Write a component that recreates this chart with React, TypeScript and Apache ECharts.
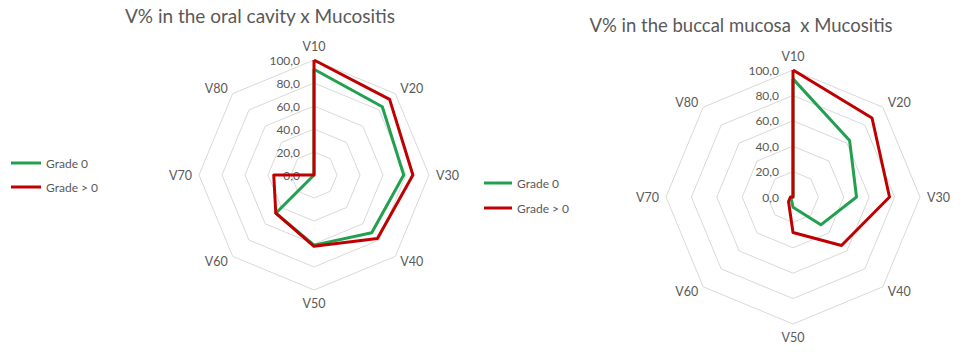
import React, { useEffect, useRef } from "react";
import * as echarts from "echarts";

const axisNames = ["V10", "V20", "V30", "V40", "V50", "V60", "V70", "V80"];
const seriesNames = ["Grade 0", "Grade > 0"];
const titles = ["V% in the oral cavity x Mucositis", "V% in the buccal mucosa  x Mucositis"];

// Oral cavity (left chart)
const oralGrade0 = [92, 84, 78, 71, 61, 47, 0, 0];
const oralGradeAbove0 = [100, 93, 86, 78, 62, 47, 35, 0];

// Buccal mucosa (right chart)
const buccalGrade0 = [93, 63, 50, 31, 8, 2, 1, 0];
const buccalGradeAbove0 = [100, 88, 76, 54, 28, 5, 2, 0];

const axisMin = 0;
const axisMax = 100;
const axisSplits = 5;

const GREEN = "#21a04f";
const RED = "#c00000";
const TEXT = "#595959";
const FONT = "Lato";

// ECharts radar goes counter-clockwise; Excel goes clockwise.
const order = [0, 7, 6, 5, 4, 3, 2, 1];
const reorder = (arr: number[]) => order.map((i) => arr[i]);

function makeRadar(center: [number, number], radius: number, nameGap: number) {
  return {
    center,
    radius,
    startAngle: 90,
    splitNumber: axisSplits,
    shape: "polygon",
    nameGap,
    axisName: { color: TEXT, fontSize: 12.5, fontFamily: FONT },
    indicator: order.map((i, k) => {
      const ind: any = { name: axisNames[i], min: axisMin, max: axisMax };
      if (k === 0) {
        ind.axisLabel = {
          show: true,
          margin: 14,
          color: TEXT,
          fontSize: 12,
          fontFamily: FONT,
          formatter: (v: number) => v.toFixed(1).replace(".", ","),
        };
      }
      return ind;
    }),
    splitLine: { lineStyle: { color: "#d9d9d9", width: 1 } },
    splitArea: { show: false },
    axisLine: { show: false },
    axisTick: { show: false },
    axisLabel: { show: false },
  };
}

function makeSeries(radarIndex: number, g0: number[], g1: number[]) {
  const colors = [GREEN, RED];
  return {
    type: "radar",
    radarIndex,
    symbol: "none",
    data: [g0, g1].map((vals, k) => ({
      name: seriesNames[k],
      value: reorder(vals),
      itemStyle: { color: colors[k] },
      lineStyle: { color: colors[k], width: 3 },
    })),
  };
}

function makeLegend(left: number, top: number, iconWidth: number, gap: number) {
  return {
    orient: "vertical",
    left,
    top,
    data: seriesNames,
    icon: "rect",
    itemWidth: iconWidth,
    itemHeight: 3,
    itemGap: gap,
    textStyle: { color: TEXT, fontSize: 12, fontFamily: FONT },
  };
}

export default function App() {
  const ref = useRef<HTMLDivElement>(null);
  useEffect(() => {
    document.body.style.margin = "0";
    if (!ref.current) return;
    const chart = echarts.init(ref.current, null, { renderer: "svg" });
    chart.setOption({
      animation: false,
      backgroundColor: "#ffffff",
      title: [
        {
          text: titles[0],
          left: 260,
          top: 6,
          padding: 0,
          textAlign: "center",
          textStyle: { color: TEXT, fontSize: 19, fontWeight: "normal", fontFamily: FONT },
        },
        {
          text: titles[1],
          left: 741,
          top: 15,
          padding: 0,
          textAlign: "center",
          textStyle: { color: TEXT, fontSize: 18.5, fontWeight: "normal", fontFamily: FONT },
        },
      ],
      legend: [makeLegend(6, 152, 30, 12), makeLegend(479, 172, 28, 13)],
      radar: [makeRadar([314, 175], 115, 7), makeRadar([793, 197], 127, 7)],
      series: [makeSeries(0, oralGrade0, oralGradeAbove0), makeSeries(1, buccalGrade0, buccalGradeAbove0)],
    });
    return () => chart.dispose();
  }, []);
  return (
    <div
      ref={ref}
      style={{ position: "absolute", left: 0, top: 0, width: 976, height: 358 }}
    />
  );
}
